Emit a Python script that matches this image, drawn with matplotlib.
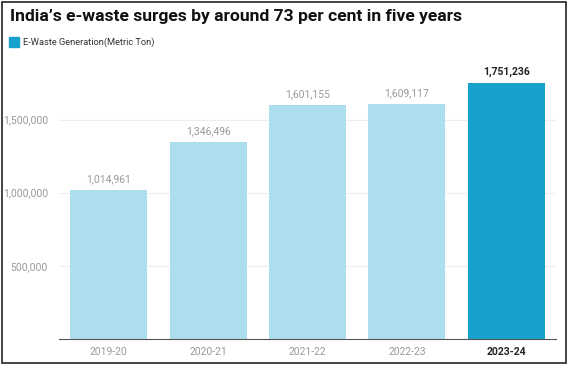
import matplotlib.pyplot as plt
from matplotlib.patches import Rectangle

years = ['2019-20', '2020-21', '2021-22', '2022-23', '2023-24']
ewaste = [1014961, 1346496, 1601155, 1609117, 1751236]
yticks = [500000, 1000000, 1500000]

light = '#addeed'
dark = '#17a2cd'
colors = [light] * 4 + [dark]

plt.rcParams['font.family'] = ['Roboto', 'DejaVu Sans']

W, H = 568, 365
fig = plt.figure(figsize=(W / 100, H / 100), dpi=100)
ax = fig.add_axes([59 / W, 1 - 339 / H, (556 - 59) / W, (339 - 61) / H])

x = range(len(years))
ax.bar(x, ewaste, width=0.775, color=colors, zorder=2)
ax.set_xlim(-0.5, 4.5)
ax.set_ylim(0, 1900000)

ax.set_yticks(yticks)
ax.set_yticklabels([f'{v:,}' for v in yticks], color='#999999', fontsize=7.5)
ax.yaxis.grid(True, color='#eeeeee', lw=0.8, zorder=0)
ax.tick_params(axis='y', length=0, pad=8)
ax.set_xticks(list(x))
ax.set_xticklabels(years, fontsize=7.5, color='#999999')
ax.tick_params(axis='x', length=0, pad=6)
lbls = ax.get_xticklabels()
lbls[-1].set_color('#222222')
lbls[-1].set_fontweight('bold')

for s in ['top', 'right', 'left']:
    ax.spines[s].set_visible(False)
ax.spines['bottom'].set_color('#555555')
ax.spines['bottom'].set_linewidth(0.8)

for i, v in enumerate(ewaste):
    last = i == len(ewaste) - 1
    ax.text(i, v + 40000, f'{v:,}', ha='center', va='bottom', fontsize=7.5,
            color='#222222' if last else '#999999',
            fontweight='bold' if last else 'normal')

fig.text(10 / W, 1 - 17 / H, 'India\u2019s e-waste surges by around 73 per cent in five years',
         fontsize=12.6, fontweight='bold', va='center', ha='left', color='#111111')
fig.patches.append(Rectangle((9 / W, 1 - 47 / H), 10 / W, 10 / H, transform=fig.transFigure,
                             color=dark))
fig.text(23 / W, 1 - 42 / H, 'E-Waste Generation(Metric Ton)', fontsize=6.7, va='center',
         ha='left', color='#333333')

fig.patches.append(Rectangle((2 / W, 2 / H), (W - 4) / W, (H - 4) / H, transform=fig.transFigure,
                             fill=False, edgecolor='#222222', lw=1.2))

fig.savefig('out.png', dpi=100)
